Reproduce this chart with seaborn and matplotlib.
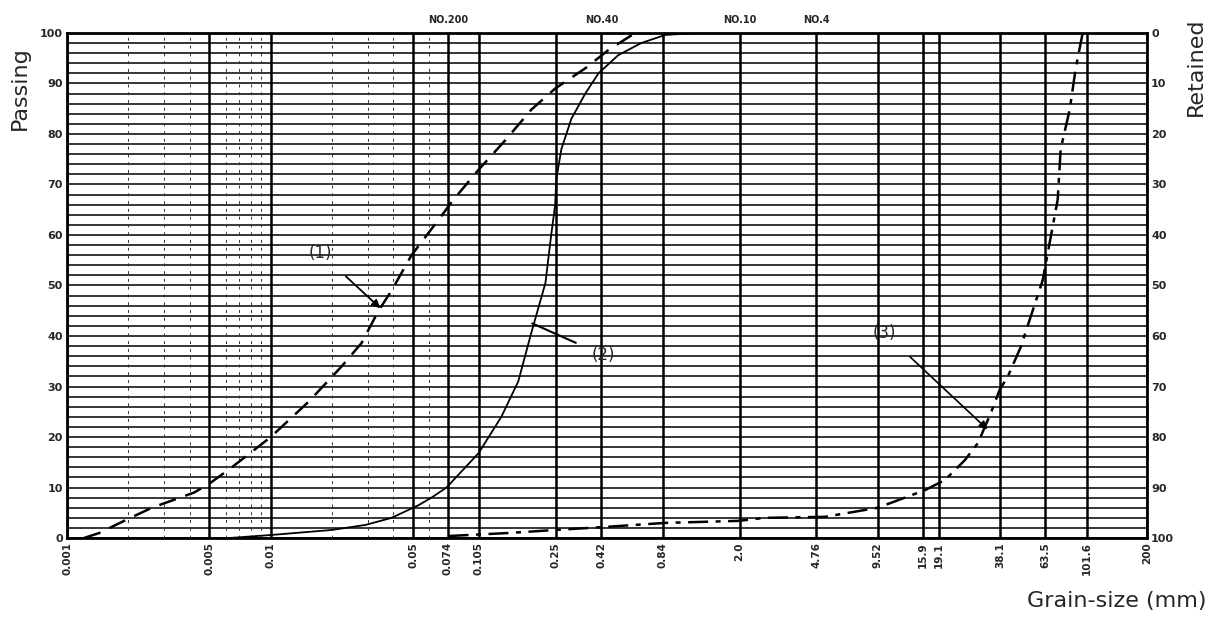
import matplotlib
matplotlib.use("Agg")
import matplotlib.pyplot as plt
import numpy as np
import pandas as pd
import seaborn as sns

# grain size (mm) and percent passing
size_1 = [0.00121, 0.00144, 0.00195, 0.00261, 0.0042, 0.00497, 0.00644, 0.01, 0.01535,
          0.0223, 0.0279, 0.0338, 0.0392, 0.0491, 0.0666, 0.0789, 0.1047, 0.142, 0.19,
          0.249, 0.35, 0.454, 0.615]
pass_1 = [0, 1, 3.6, 6, 9, 10.7, 14, 20, 27, 34, 38.6, 45, 49, 56, 63, 67, 72.9, 78.8,
          84.8, 89, 93, 96.6, 100]

size_2 = [0.00622, 0.01, 0.0199, 0.0292, 0.0392, 0.0531, 0.0615, 0.0729, 0.1047, 0.1355,
          0.164, 0.19, 0.223, 0.238, 0.249, 0.252, 0.267, 0.299, 0.35, 0.406, 0.508,
          0.659, 0.863, 1.25, 2.0]
pass_2 = [0, 0.6, 1.6, 2.6, 4, 6.5, 8, 10, 16.8, 24, 31, 40.6, 50.5, 60, 66, 71, 77, 83,
          88, 92, 95.6, 98, 99.6, 100, 100]

size_3 = [0.0746, 0.147, 0.249, 0.438, 0.863, 1.97, 2.67, 5.26, 9.55, 16.3, 20.4, 25.5,
          29.6, 34.2, 37.8, 41.5, 48.0, 53.7, 61.5, 72.9, 75.4, 83.5, 89.4, 96.7]
pass_3 = [0.4, 1, 1.6, 2.2, 3, 3.4, 4, 4.2, 6, 9.5, 11.5, 15.4, 18.8, 24.7, 29.3, 32, 37.8,
          43.8, 51, 67, 77, 84.8, 93, 100]

sieve_sizes = [0.001, 0.005, 0.01, 0.05, 0.074, 0.105, 0.25, 0.42, 0.84, 2.0, 4.76, 9.52,
               15.9, 19.1, 38.1, 63.5, 101.6, 200]
sieve_labels = ["0.001", "0.005", "0.01", "0.05", "0.074", "0.105", "0.25", "0.42", "0.84",
                "2.0", "4.76", "9.52", "15.9", "19.1", "38.1", "63.5", "101.6", "200"]
minor_sizes = [0.002, 0.003, 0.004, 0.006, 0.007, 0.008, 0.009, 0.02, 0.03, 0.04, 0.06]
sieve_names = ["NO.200", "NO.40", "NO.10", "NO.4"]
sieve_name_sizes = [0.074, 0.42, 2.0, 4.76]

sns.set_style("white")
plt.rcParams["font.family"] = ["DejaVu Sans"]

fig = plt.figure(figsize=(12.14, 6.33), dpi=100)
ax = fig.add_axes([0.0552, 0.150, 0.8896, 0.798])
ax.set_xscale("log")
ax.set_xlim(0.001, 200)
ax.set_ylim(0, 100)

# grid of the printed form
for y in range(0, 101, 2):
    ax.axhline(y, color="black", lw=1.1, zorder=1)
for x in sieve_sizes:
    ax.axvline(x, color="black", lw=1.8, zorder=1)
for x in minor_sizes:
    ax.axvline(x, color="#333333", lw=0.7, ls=(0, (3, 5)), zorder=1)

d1 = pd.DataFrame({"size": size_1, "passing": pass_1})
d2 = pd.DataFrame({"size": size_2, "passing": pass_2})
d3 = pd.DataFrame({"size": size_3, "passing": pass_3})
sns.lineplot(data=d1, x="size", y="passing", ax=ax, color="black", lw=1.8,
             linestyle=(0, (7, 4)), zorder=3)
sns.lineplot(data=d2, x="size", y="passing", ax=ax, color="black", lw=1.3, zorder=3)
sns.lineplot(data=d3, x="size", y="passing", ax=ax, color="black", lw=1.8,
             linestyle=(0, (8, 3, 2, 3)), zorder=3)

ax.set_xlabel("")
ax.set_ylabel("")
ax.set_xticks(sieve_sizes)
ax.set_xticklabels(sieve_labels, rotation=90, fontsize=7.5, fontweight="bold")
ax.xaxis.set_minor_locator(matplotlib.ticker.NullLocator())
ax.set_yticks(range(0, 101, 10))
ax.set_yticklabels([str(v) for v in range(0, 101, 10)], fontsize=8, fontweight="bold")
ax.tick_params(axis="both", length=0, pad=3)
for s in ax.spines.values():
    s.set_color("black")
    s.set_linewidth(2)

ax2 = ax.twinx()
ax2.set_ylim(100, 0)
ax2.set_yticks(range(0, 101, 10))
ax2.set_yticklabels([str(v) for v in range(0, 101, 10)], fontsize=8, fontweight="bold")
ax2.tick_params(axis="y", length=0, pad=3)
for s in ax2.spines.values():
    s.set_visible(False)

for name, x in zip(sieve_names, sieve_name_sizes):
    ax.text(x, 101.5, name, ha="center", va="bottom", fontsize=7, fontweight="bold")

ax.annotate("(1)", xy=(0.0345, 45.5), xytext=(0.0175, 56.5), fontsize=12,
            ha="center", va="center",
            arrowprops=dict(arrowstyle="-|>", color="black", lw=1.3,
                            shrinkA=12, shrinkB=0))
ax.annotate("(2)", xy=(0.192, 42.5), xytext=(0.43, 36.2), fontsize=12,
            ha="center", va="center",
            arrowprops=dict(arrowstyle="-", color="black", lw=1.5,
                            shrinkA=10, shrinkB=0))
ax.annotate("(3)", xy=(33.0, 21.5), xytext=(10.3, 40.6), fontsize=12,
            ha="center", va="center",
            arrowprops=dict(arrowstyle="-|>", color="black", lw=1.2,
                            shrinkA=12, shrinkB=0))

fig.text(0.016, 0.86, "Passing", rotation=90, fontsize=16, ha="center", va="center")
fig.text(0.985, 0.895, "Retained", rotation=90, fontsize=16, ha="center", va="center")
fig.text(0.92, 0.05, "Grain-size (mm)", fontsize=16, ha="center", va="center")

fig.savefig("out.png", dpi=100, facecolor="white")
